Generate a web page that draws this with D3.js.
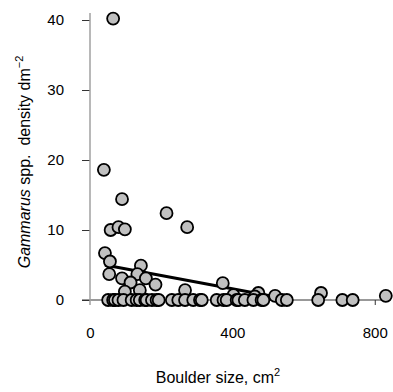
<!DOCTYPE html>
<html>
<head>
<meta charset="utf-8">
<script src="https://cdn.jsdelivr.net/npm/d3@7"></script>
<style>
  body { margin: 0; background: #fff; }
  svg { display: block; }
  text { font-family: "Liberation Sans", Arial, sans-serif; fill: #000; }
</style>
</head>
<body>
<svg id="chart" width="393" height="392"></svg>
<script>
// Boulder size (cm^2) and Gammarus density (dm^-2)
const boulderSize = [
  65, 39, 90, 215, 273, 58, 80, 98, 42, 56, 54, 90, 143, 133, 157, 114, 184, 98, 140, 267, 373, 403, 473, 463, 520, 649, 831,
  51, 65, 70, 80, 94, 117, 131, 140, 155, 159, 174, 187, 193, 230, 248, 267, 290, 309, 314, 356, 375, 384, 412, 417, 435, 459, 482, 487, 539, 553, 641, 709, 738
];
const density = [
  40.2, 18.6, 14.4, 12.4, 10.4, 10.0, 10.4, 10.1, 6.7, 5.5, 3.7, 3.1, 4.9, 3.7, 3.1, 2.5, 2.2, 1.2, 1.4, 1.4, 2.4, 0.7, 1.0, 0.5, 0.6, 1.0, 0.6,
  0, 0, 0, 0, 0, 0, 0, 0, 0, 0, 0, 0, 0, 0, 0, 0, 0, 0, 0, 0, 0, 0, 0, 0, 0, 0, 0, 0, 0, 0, 0, 0, 0
];
// fitted regression line (start / end x, intercept, slope)
const fitX = [42, 550];
const fitIntercept = 5.4;
const fitSlope = -0.00948;
const xTicks = [0, 400, 800];
const yTicks = [0, 10, 20, 30, 40];

const svg = d3.select("#chart");
const x = d3.scaleLinear().domain([0, 840]).range([90, 389]);
const y = d3.scaleLinear().domain([0, 40]).range([300, 20]);

// y axis
const yAxis = svg.append("g").attr("transform", "translate(90,0)")
  .call(d3.axisLeft(y).tickValues(yTicks).tickSize(8).tickPadding(18).tickFormat(d3.format("d")));
yAxis.select(".domain").remove();
yAxis.selectAll(".tick line").attr("stroke", "#333");
yAxis.selectAll(".tick text").style("font-size", "15px").style("font-family", "Liberation Sans, Arial, sans-serif");

// x axis
const xAxis = svg.append("g").attr("transform", "translate(0,300)")
  .call(d3.axisBottom(x).tickValues(xTicks).tickSize(5).tickPadding(22).tickFormat(d3.format("d")));
xAxis.select(".domain").remove();
xAxis.selectAll(".tick line").attr("stroke", "#333").attr("display", d => d === 0 ? "none" : null);
xAxis.selectAll(".tick text").style("font-size", "15px").style("font-family", "Liberation Sans, Arial, sans-serif").attr("dy", "0.71em");

// axis lines
svg.append("line").attr("x1", 82).attr("x2", x(840)).attr("y1", y(0)).attr("y2", y(0))
  .attr("stroke", "#333").attr("stroke-width", 1);
svg.append("line").attr("x1", x(0)).attr("x2", x(0)).attr("y1", y(41)).attr("y2", 305)
  .attr("stroke", "#a0a0a0").attr("stroke-width", 1.5);

// regression line
svg.append("line")
  .attr("x1", x(fitX[0])).attr("y1", y(fitIntercept + fitSlope * fitX[0]))
  .attr("x2", x(fitX[1])).attr("y2", y(fitIntercept + fitSlope * fitX[1]))
  .attr("stroke", "#000").attr("stroke-width", 3);

// points
svg.append("g").selectAll("circle")
  .data(boulderSize.map((b, i) => [b, density[i]]))
  .join("circle")
  .attr("cx", d => x(d[0]))
  .attr("cy", d => y(d[1]))
  .attr("r", 6)
  .attr("fill", "#c0c0c0")
  .attr("stroke", "#000")
  .attr("stroke-width", 1.8);

// x title
const xt = svg.append("text").attr("x", 218).attr("y", 383).attr("text-anchor", "middle")
  .style("font-size", "16px");
xt.append("tspan").text("Boulder size, cm");
xt.append("tspan").attr("dy", -7).style("font-size", "11px").text("2");

// y title
const yt = svg.append("text").attr("transform", "translate(30,162) rotate(-90)")
  .attr("text-anchor", "middle").style("font-size", "16px").style("white-space", "pre");
yt.append("tspan").style("font-style", "italic").text("Gammarus");
yt.append("tspan").text(" spp.  density dm");
yt.append("tspan").attr("dy", -7).style("font-size", "11px").text("\u22122");
</script>
</body>
</html>
